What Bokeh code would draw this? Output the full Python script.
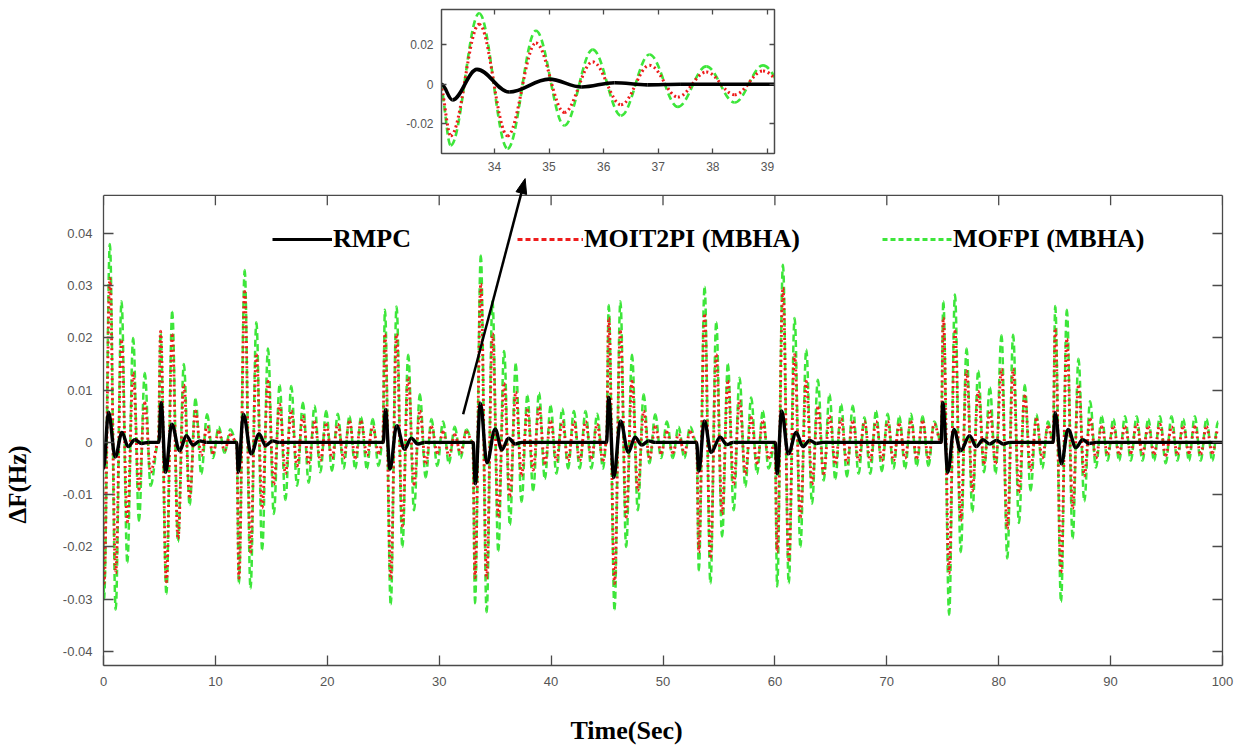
import numpy as np
from bokeh.plotting import figure
from bokeh.models import (FixedTicker, LinearAxis, Range1d, Legend, LegendItem, Title,
                          Spacer, ColumnDataSource)
from bokeh.layouts import column, row
from bokeh.embed import file_html
from bokeh.resources import INLINE

# ---------------- data ----------------
SERIES_NAMES = ["RMPC", "MOIT2PI (MBHA)", "MOFPI (MBHA)"]

HALF_PERIOD = 0.52          # s between successive extrema of the MBHA responses
DISTURBANCE_T = [-0.1, 4.9, 11.9, 24.95, 33.0, 44.95, 53.0, 60.0, 74.85, 84.85]
FIRST_EXTREMUM_T = [0.05, 5.1, 12.1, 25.15, 33.2, 45.15, 53.2, 60.2, 75.05, 85.05]

MOIT2PI_PEAKS = [
    [-0.027, 0.0314, -0.025, 0.0194, -0.0152, 0.0133, -0.009, 0.0076, -0.0057],
    [0.0213, -0.0267, 0.0206, -0.0184, 0.011, -0.0105, 0.006, -0.0025, 0.003, -0.002, 0.002, -0.0015, 0.0015],
    [-0.026, 0.0289, -0.021, 0.0168, -0.0125, 0.0117, -0.008, 0.0073, -0.006, 0.006, -0.0045, 0.005,
     -0.004, 0.004, -0.0035, 0.0035, -0.003, 0.0035, -0.003, 0.004, -0.003, 0.004, -0.0025, 0.003, -0.002],
    [0.0206, -0.026, 0.0206, -0.016, 0.0124, -0.008, 0.006, -0.004, 0.003, -0.002, 0.002, -0.0025, 0.0015, -0.002, 0.002],
    [-0.0259, 0.0303, -0.026, 0.0208, -0.0142, 0.0113, -0.0103, 0.0096, -0.0064, 0.0062, -0.0053, 0.0067,
     -0.004, 0.004, -0.0035, 0.004, -0.0035, 0.004, -0.0035, 0.004, -0.003, 0.0035, -0.0035],
    [0.0238, -0.027, 0.0213, -0.0143, 0.0117, -0.0092, 0.006, -0.003, 0.003, -0.002, 0.002, -0.002, 0.0015, -0.002, 0.002],
    [-0.021, 0.0244, -0.022, 0.0168, -0.0137, 0.0117, -0.008, 0.008, -0.006, 0.0048, -0.004, 0.004, -0.003],
    [-0.021, 0.0295, -0.0225, 0.0168, -0.0143, 0.0117, -0.008, 0.0067, -0.006, 0.005, -0.004, 0.0045, -0.004, 0.004,
     -0.0035, 0.004, -0.0035, 0.004, -0.0035, 0.004, -0.0035, 0.0035, -0.003, 0.004, -0.003, 0.004, -0.003, 0.0035],
    [0.0238, -0.025, 0.0213, -0.015, 0.0137, -0.0093, 0.0098, -0.004, 0.006, -0.004, 0.014, -0.0165, 0.014,
     -0.0095, 0.0089, -0.0054, 0.0045, -0.003, 0.003],
    [0.0216, -0.0248, 0.0197, -0.0126, 0.0108, -0.0064, 0.0045, -0.003, 0.003, -0.0022, 0.003, -0.0022, 0.003, -0.002,
     0.0035, -0.0022, 0.003, -0.0022, 0.0035, -0.0025, 0.003, -0.0022, 0.003, -0.002, 0.003, -0.0022, 0.003, -0.002, 0.0025],
]

MOFPI_PEAKS = [
    [-0.030, 0.038, -0.032, 0.027, -0.023, 0.020, -0.015, 0.0133, -0.0083],
    [0.021, -0.029, 0.025, -0.019, 0.015, -0.012, 0.0083, -0.006, 0.0054, -0.003, 0.003, -0.002, 0.0025],
    [-0.027, 0.033, -0.028, 0.023, -0.0205, 0.018, -0.0137, 0.011, -0.011, 0.0108, -0.0083, 0.0076, -0.0077,
     0.007, -0.0057, 0.006, -0.0054, 0.0055, -0.005, 0.005, -0.005, 0.0048, -0.005, 0.0045, -0.0045],
    [0.0254, -0.031, 0.026, -0.02, 0.0168, -0.013, 0.0092, -0.0067, 0.0045, -0.0045, 0.004, -0.004, 0.003, -0.003, 0.0025],
    [-0.0308, 0.0358, -0.0325, 0.027, -0.0208, 0.0175, -0.0158, 0.015, -0.0114, 0.009, -0.0092, 0.0095,
     -0.007, 0.007, -0.006, 0.0065, -0.005, 0.006, -0.005, 0.006, -0.005, 0.0055, -0.005],
    [0.0263, -0.032, 0.027, -0.020, 0.0168, -0.013, 0.0092, -0.004, 0.0054, -0.003, 0.004, -0.003, 0.003, -0.003, 0.003],
    [-0.0245, 0.0298, -0.027, 0.023, -0.018, 0.015, -0.013, 0.0124, -0.0085, 0.0086, -0.006, 0.006, -0.005],
    [-0.0276, 0.034, -0.027, 0.0238, -0.020, 0.0178, -0.0117, 0.012, -0.0073, 0.0092, -0.007, 0.0073, -0.0065, 0.007,
     -0.006, 0.0048, -0.006, 0.006, -0.0055, 0.0055, -0.005, 0.005, -0.005, 0.0055, -0.0045, 0.005, -0.0045, 0.004],
    [0.027, -0.033, 0.0283, -0.021, 0.018, -0.0133, 0.0137, -0.0057, 0.0105, -0.006, 0.0205, -0.0222, 0.0206,
     -0.0154, 0.011, -0.0092, 0.0054, -0.005, 0.004],
    [0.0261, -0.0305, 0.0254, -0.0184, 0.016, -0.0113, 0.0079, -0.0048, 0.005, -0.0035, 0.0045, -0.0035, 0.005, -0.0035,
     0.005, -0.0035, 0.0045, -0.0035, 0.005, -0.004, 0.005, -0.0035, 0.0045, -0.0035, 0.005, -0.0035, 0.0045, -0.0035, 0.004],
]

RMPC_T = [
    [0.0, 0.45, 1.05, 1.65, 2.2, 2.8, 3.4, 4.0],
    [4.95, 5.15, 5.55, 6.1, 6.8, 7.4, 8.0, 8.6, 9.2],
    [11.9, 12.05, 12.5, 13.2, 13.9, 14.5, 15.1, 15.7],
    [25.0, 25.2, 25.6, 26.2, 26.9, 27.5, 28.1, 28.7],
    [33.03, 33.23, 33.68, 34.27, 35.0, 35.6, 36.2, 36.8, 37.4],
    [44.95, 45.15, 45.6, 46.2, 46.9, 47.5, 48.1, 48.7, 49.3],
    [53.0, 53.2, 53.7, 54.3, 55.1, 55.7, 56.3],
    [60.05, 60.2, 60.6, 61.2, 61.9, 62.5, 63.1, 63.7, 64.3],
    [74.85, 75.0, 75.45, 76.0, 76.6, 77.4, 78.0, 78.6, 79.2, 79.8, 80.4, 81.0],
    [84.85, 85.05, 85.6, 86.2, 86.9, 87.5, 88.1, 88.7, 100.0],
]
RMPC_V = [
    [-0.005, 0.0058, -0.0028, 0.0019, -0.0008, 0.0005, -0.0002, 0.0],
    [0.0, 0.0076, -0.0057, 0.0035, -0.0016, 0.0013, -0.0005, 0.0003, 0.0],
    [0.0, -0.0057, 0.0054, -0.0022, 0.0016, -0.0006, 0.0003, 0.0],
    [0.0, 0.0063, -0.0051, 0.0032, -0.0013, 0.0008, -0.0003, 0.0],
    [0.0, -0.0079, 0.0075, -0.0039, 0.0026, -0.0014, 0.0008, -0.0003, 0.0],
    [0.0, 0.0086, -0.0067, 0.0041, -0.0019, 0.001, -0.0005, 0.0003, 0.0],
    [0.0, -0.0055, 0.0041, -0.0019, 0.001, -0.0004, 0.0],
    [0.0, -0.006, 0.006, -0.0022, 0.0019, -0.0008, 0.0004, -0.0002, 0.0],
    [0.0, 0.0076, -0.0057, 0.0025, -0.0016, 0.0013, -0.0008, 0.0005, -0.0003, 0.0004, -0.0003, 0.0],
    [0.0, 0.0057, -0.0041, 0.0025, -0.001, 0.0005, -0.0002, 0.0, 0.0],
]

X_TICKS = [0, 10, 20, 30, 40, 50, 60, 70, 80, 90, 100]
X_TICK_LABELS = ["0", "10", "20", "30", "40", "50", "60", "70", "80", "90", "100"]
Y_TICKS = [-0.04, -0.03, -0.02, -0.01, 0, 0.01, 0.02, 0.03, 0.04]
Y_TICK_LABELS = ["-0.04", "-0.03", "-0.02", "-0.01", "0", "0.01", "0.02", "0.03", "0.04"]
INSET_X_TICKS = [34, 35, 36, 37, 38, 39]
INSET_X_TICK_LABELS = ["34", "35", "36", "37", "38", "39"]
INSET_Y_TICKS = [-0.02, 0, 0.02]
INSET_Y_TICK_LABELS = ["-0.02", "0", "0.02"]

X_LABEL = "Time(Sec)"
Y_LABEL = "\u0394F(Hz)"

# ---------------- styles / layout ----------------
AXIS_COLOR = "#4a4a4a"
TICK_TEXT = "#555555"
RED = "#ee1c1c"
GREEN = "#3de63a"
SERIF = "Liberation Serif"
SANS = "Liberation Sans"

MAIN_X = (0, 100)
BOX_BOTTOM, BOX_TOP = -0.0427, 0.0473      # visible axes box of the main plot
MAIN_Y = (BOX_BOTTOM, 0.0509)              # frame reaches a little higher so the arrow tip fits
MAIN_W, MAIN_H = 1234, 573
MAIN_BORDER = dict(min_border_left=103, min_border_right=12, min_border_top=1, min_border_bottom=83)
INSET_X = (33.03, 39.13)
INSET_Y = (-0.0349, 0.0377)
TICK_LEN = 10      # px

# arrow from the main plot up to the inset (data units of the main plot)
ARROW_START = (32.14, 0.0054)
ARROW_END = (37.68, 0.0505)
HEAD_LEN, HEAD_HALF_W = 15.0, 5.5   # px

frame_w = MAIN_W - MAIN_BORDER["min_border_left"] - MAIN_BORDER["min_border_right"]
frame_h = MAIN_H - MAIN_BORDER["min_border_top"] - MAIN_BORDER["min_border_bottom"]
SX = frame_w / (MAIN_X[1] - MAIN_X[0])
SY = frame_h / (MAIN_Y[1] - MAIN_Y[0])


def mbha_points(peaks):
    t, v = [], []
    for onset, first, seg in zip(DISTURBANCE_T, FIRST_EXTREMUM_T, peaks):
        t.append(onset)
        v.append(0.0)
        for i, val in enumerate(seg):
            t.append(first + i * HALF_PERIOD)
            v.append(val)
    return np.array(t), np.array(v)


def rmpc_points():
    t = np.concatenate([np.array(a, dtype=float) for a in RMPC_T])
    v = np.concatenate([np.array(a, dtype=float) for a in RMPC_V])
    return t, v


def smooth_source(t, v, k=0.36):
    x0, x1, y0, y1 = t[:-1], t[1:], v[:-1], v[1:]
    dx = x1 - x0
    return ColumnDataSource(dict(x0=x0, y0=y0, x1=x1, y1=y1,
                                 cx0=x0 + k * dx, cy0=y0, cx1=x1 - k * dx, cy1=y1))


t_red, v_red = mbha_points(MOIT2PI_PEAKS)
t_grn, v_grn = mbha_points(MOFPI_PEAKS)
t_blk, v_blk = rmpc_points()


def draw_series(p, w_scale=1.0):
    cols = dict(x0="x0", y0="y0", x1="x1", y1="y1", cx0="cx0", cy0="cy0", cx1="cx1", cy1="cy1")
    p.bezier(source=smooth_source(t_grn, v_grn), line_color=GREEN, line_width=2.5 * w_scale,
             line_dash="7 4", **cols)
    p.bezier(source=smooth_source(t_red, v_red), line_color=RED, line_width=2.9 * w_scale,
             line_dash="2 3", **cols)
    p.bezier(source=smooth_source(t_blk, v_blk), line_color="black", line_width=3.4 * w_scale, **cols)


def style_axis(ax, ticks, labels, font_size, standoff, tick_len, show=True):
    ax.ticker = FixedTicker(ticks=ticks)
    ax.minor_tick_line_color = None
    ax.axis_line_color = AXIS_COLOR
    ax.axis_line_width = 1.3
    ax.major_tick_line_color = AXIS_COLOR
    ax.major_tick_line_width = 1.3
    ax.major_tick_in = tick_len
    ax.major_tick_out = 0
    if show:
        ax.major_label_overrides = dict(zip(ticks, labels))
        ax.major_label_text_font = SANS
        ax.major_label_text_font_size = font_size
        ax.major_label_text_color = TICK_TEXT
        ax.major_label_standoff = standoff
    else:
        ax.major_label_overrides = {tk: "" for tk in ticks}
        ax.major_label_text_font_size = "0px"
        ax.major_label_standoff = 0


# ---------------- main figure ----------------
p = figure(width=MAIN_W, height=MAIN_H, x_range=Range1d(*MAIN_X), y_range=Range1d(*MAIN_Y),
           output_backend="svg", toolbar_location=None, **MAIN_BORDER)
p.grid.visible = False
p.outline_line_color = None
p.background_fill_color = "white"
p.border_fill_color = "white"

draw_series(p)

style_axis(p.xaxis[0], X_TICKS, X_TICK_LABELS, "13px", 11, TICK_LEN)
style_axis(p.yaxis[0], Y_TICKS, Y_TICK_LABELS, "13px", 11, TICK_LEN)
p.yaxis[0].bounds = (BOX_BOTTOM, BOX_TOP)
# blank axis labels only reserve room between the tick numbers and the titles
p.xaxis[0].axis_label = " "
p.xaxis[0].axis_label_text_font_size = "19px"
p.xaxis[0].axis_label_standoff = 0
p.yaxis[0].axis_label = " "
p.yaxis[0].axis_label_text_font_size = "22px"
p.yaxis[0].axis_label_standoff = 0

right_ax = LinearAxis()
style_axis(right_ax, Y_TICKS, Y_TICK_LABELS, "13px", 0, TICK_LEN, show=False)
right_ax.bounds = (BOX_BOTTOM, BOX_TOP)
p.add_layout(right_ax, "right")

# top edge of the box with its inward ticks
p.segment(x0=[MAIN_X[0]], y0=[BOX_TOP], x1=[MAIN_X[1]], y1=[BOX_TOP],
          line_color=AXIS_COLOR, line_width=1.3)
p.segment(x0=X_TICKS, y0=[BOX_TOP] * len(X_TICKS), x1=X_TICKS,
          y1=[BOX_TOP - TICK_LEN / SY] * len(X_TICKS), line_color=AXIS_COLOR, line_width=1.3)

# axis titles (titles in the side panels, placed like the original)
p.add_layout(Title(text=X_LABEL, align="left", offset=467, standoff=2, text_font=SERIF,
                   text_font_style="bold", text_font_size="26px", text_color="black"), "below")
p.add_layout(Title(text=Y_LABEL, align="left", offset=142, standoff=2, text_font=SERIF,
                   text_font_style="bold", text_font_size="25px", text_color="black"), "left")

# legend (three separate entries, as in the original)
legend_specs = [
    (SERIES_NAMES[0], dict(line_color="black", line_width=3), 60, 169),
    (SERIES_NAMES[1], dict(line_color=RED, line_width=3, line_dash="5 3"), 66, 414),
    (SERIES_NAMES[2], dict(line_color=GREEN, line_width=3, line_dash="5 3"), 70, 779),
]
for name, props, gw, lx in legend_specs:
    r = p.line(x=[np.nan], y=[np.nan], **props)
    lg = Legend(items=[LegendItem(label=name, renderers=[r])], location=(lx, 411),
                glyph_width=gw, label_standoff=1, padding=0, margin=0, spacing=0,
                border_line_alpha=0, background_fill_alpha=0,
                label_text_font=SERIF, label_text_font_style="bold",
                label_text_font_size="26px", label_text_color="black")
    p.add_layout(lg)

# arrow pointing to the zoomed inset (body + filled head)
dxp = (ARROW_END[0] - ARROW_START[0]) * SX
dyp = (ARROW_END[1] - ARROW_START[1]) * SY
L = np.hypot(dxp, dyp)
ux, uy = dxp / L, dyp / L
base_cx = ARROW_END[0] - ux * HEAD_LEN / SX
base_cy = ARROW_END[1] - uy * HEAD_LEN / SY
p.segment(x0=[ARROW_START[0]], y0=[ARROW_START[1]], x1=[base_cx], y1=[base_cy],
          line_color="black", line_width=2.5)
p.patch(x=[ARROW_END[0], base_cx - uy * HEAD_HALF_W / SX, base_cx + uy * HEAD_HALF_W / SX],
        y=[ARROW_END[1], base_cy + ux * HEAD_HALF_W / SY, base_cy - ux * HEAD_HALF_W / SY],
        fill_color="black", line_color="black", line_width=1)

# ---------------- inset ----------------
ins = figure(width=385, height=175, x_range=Range1d(*INSET_X), y_range=Range1d(*INSET_Y),
             output_backend="svg", toolbar_location=None,
             min_border_left=46, min_border_right=6, min_border_top=9, min_border_bottom=22)
ins.grid.visible = False
ins.outline_line_color = AXIS_COLOR
ins.outline_line_width = 1.2
draw_series(ins, 1.05)
style_axis(ins.xaxis[0], INSET_X_TICKS, INSET_X_TICK_LABELS, "12px", 8, 5)
style_axis(ins.yaxis[0], INSET_Y_TICKS, INSET_Y_TICK_LABELS, "12px", 8, 5)
ins_top = LinearAxis()
style_axis(ins_top, INSET_X_TICKS, INSET_X_TICK_LABELS, "12px", 0, 5, show=False)
ins.add_layout(ins_top, "above")
ins_right = LinearAxis()
style_axis(ins_right, INSET_Y_TICKS, INSET_Y_TICK_LABELS, "12px", 0, 5, show=False)
ins.add_layout(ins_right, "right")

layout = column(row(Spacer(width=395, height=175), ins), p)

open("out.html", "w").write(file_html(layout, INLINE))
